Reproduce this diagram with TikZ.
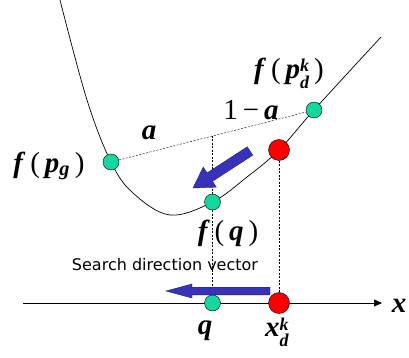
\documentclass[tikz,border=0pt]{standalone}
\usepackage{fontspec}
\setmainfont{Liberation Serif}
\newfontfamily\capfont{DejaVu Sans}
\usetikzlibrary{arrows.meta,calc}
\definecolor{mint}{RGB}{20,215,160}
\definecolor{hot}{RGB}{250,0,0}
\definecolor{pushblue}{RGB}{55,50,185}
\newcommand{\bi}[1]{\textbf{\textit{#1}}}
\newcommand{\subsup}[2]{\raisebox{-2pt}{\fontsize{18}{13}\selectfont
  \begin{tabular}[c]{@{}l@{}}#2\\#1\end{tabular}}}
% block arrow: tail, tip, half shaft, half head, head length
\newcommand{\blockarrow}[5]{%
  \coordinate (h) at ($(#2)!#5!(#1)$);
  \filldraw[pusharrow] ($(#1)!#3!90:(#2)$) -- ($(h)!#3!90:(#2)$) -- ($(h)!#4!90:(#2)$) -- (#2)
    -- ($(h)!#4!-90:(#2)$) -- ($(h)!#3!-90:(#2)$) -- ($(#1)!#3!-90:(#2)$) -- cycle;}

\begin{document}
\begin{tikzpicture}[x=1pt,y=-1pt,
  dot/.style={circle,draw,thin,fill=mint,inner sep=0pt,minimum size=16pt},
  hotdot/.style={dot,fill=hot,minimum size=21pt},
  lbl/.style={font=\fontsize{29}{34}\selectfont,inner sep=1pt},
  guide/.style={dash pattern=on 2pt off 1.5pt,thin},
  pusharrow/.style={fill=pushblue,draw=pushblue!60!black,thin}]
  \useasboundingbox (0,0) rectangle (409,358);

  \coordinate (Pg) at (111,162);
  \coordinate (Pd) at (314,110);
  \coordinate (Xr) at (279,150);
  \coordinate (Fq) at (212.5,202);
  \coordinate (mid) at ($(Pg)!0.5!(Pd)$);
  \coordinate (axL) at (23,303);
  \coordinate (axR) at (382,303);

  % function curve and x axis
  \draw[line width=0.7pt] plot[smooth,tension=0.6] coordinates
    {(60,0) (87,100) (Pg) (133,193) (170,215) (Fq) (247,177) (Xr) (Pd) (381,37)};
  \draw[line width=0.7pt,-{Triangle[length=8pt,width=7pt]}] (axL) -- (axR);

  \node[dot] (pg) at (Pg) {};
  \node[dot] (pd) at (Pd) {};
  \node[dot] (fq) at (Fq) {};
  \node[hotdot] (xr) at (Xr) {};
  \node[dot] (q) at (mid |- axL) {};
  \node[hotdot] (xd) at (Xr |- axL) {};

  \draw[guide] (pg) -- (pd);
  \draw[guide] (mid) -- (fq);
  \draw[guide] (fq) -- (q);
  \draw[guide] (xr) -- (xd);

  \coordinate (s1) at (250,151);
  \coordinate (t1) at (193,188);
  \coordinate (s2) at (270,291);
  \coordinate (t2) at (166,291);
  \blockarrow{s1}{t1}{5pt}{12pt}{20pt}
  \blockarrow{s2}{t2}{3.8pt}{7pt}{26pt}

  \node[lbl] (lpd) at (289,75) {\bi{f}\,(\,\bi{p}\subsup{\bi{d}}{\bi{k}}\,)};
  \node[lbl] (lam) at (251,110) {1\,−\,\bi{a}};
  \node[lbl] (la) at (149,133) {\bi{a}};
  \node[lbl] (lpg) at (49,166) {\bi{f}\,(\,\bi{p}\textsubscript{\bi{g}}\,)};
  \node[lbl] (lfq) at (228,233) {\bi{f}\,(\,\bi{q}\,)};
  \node[font=\capfont\fontsize{16}{16}\selectfont] (cap) at (165,265) {Search direction vector};
  \node[lbl] (lq) at (205,331) {\bi{q}};
  \node[lbl] (lxd) at (277,334) {\bi{x}\subsup{\bi{d}}{\bi{k}}};
  \node[lbl] (lx) at (399,306) {\bi{x}};
\end{tikzpicture}
\end{document}
